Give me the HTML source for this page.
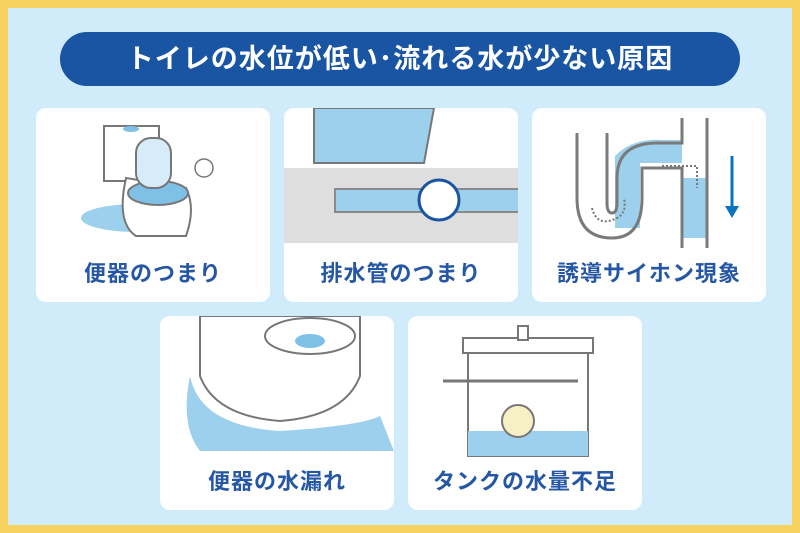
<!DOCTYPE html>
<html><head><meta charset="utf-8"><style>
body{margin:0;width:800px;height:533px;overflow:hidden;font-family:"Liberation Sans","Noto Sans CJK JP",sans-serif}
.bg{position:absolute;left:0;top:0;width:784px;height:517px;border:8px solid #f6d25e;background:#d0ebfa}
.title{position:absolute;left:60px;top:32px;width:680px;height:54px;border-radius:27px;background:#1a55a3;color:#fff;font-size:27px;font-weight:bold;text-align:center;line-height:54px;letter-spacing:1px}
.card{position:absolute;width:234px;height:194px;background:#fff;border-radius:10px;overflow:hidden}
.lab{position:absolute;left:0;right:0;bottom:14px;text-align:center;color:#2657a4;font-size:22px;font-weight:bold;letter-spacing:1px}
svg{position:absolute;left:0;top:0}
</style></head><body>
<div class="bg"></div>
<div class="title">トイレの水位が低い･流れる水が少ない原因</div>

<div class="card" style="left:36px;top:108px">
<svg width="234" height="150"><ellipse cx="100" cy="110" rx="55" ry="14" fill="#9dd0ec"/>
<rect x="68" y="18" width="55" height="55" fill="#fff" stroke="#777" stroke-width="2"/>
<path d="M90 70 Q80 115 100 128 L150 128 Q160 100 150 80 Z" fill="#fff" stroke="#777" stroke-width="2"/>
<ellipse cx="122" cy="85" rx="30" ry="12" fill="#7fc0e6" stroke="#777" stroke-width="2"/>
<rect x="100" y="30" width="35" height="50" rx="15" fill="#d6ecf8" stroke="#777" stroke-width="2"/>
<ellipse cx="95" cy="21" rx="8" ry="3" fill="#7fc0e6"/>
<circle cx="168" cy="60" r="9" fill="none" stroke="#777" stroke-width="1.5"/></svg>
<div class="lab">便器のつまり</div></div>

<div class="card" style="left:284px;top:108px">
<svg width="234" height="150"><rect x="0" y="60" width="234" height="75" fill="#dedede"/>
<rect x="50" y="80" width="184" height="25" fill="#8a8a8a"/><rect x="52" y="82" width="182" height="21" fill="#9dd0ec"/>
<path d="M30 0 L150 0 L140 55 L30 55 Z" fill="#9dd0ec" stroke="#777" stroke-width="2"/>
<circle cx="155" cy="92" r="20" fill="#fff" stroke="#1a55a3" stroke-width="3"/></svg>
<div class="lab">排水管のつまり</div></div>

<div class="card" style="left:532px;top:108px">
<svg width="234" height="150"><path d="M83 48 Q100 30 130 32 L150 32 L150 55 L108 55 L108 120 L83 120 Z" fill="#9dd0ec"/>
<rect x="150" y="70" width="25" height="60" fill="#9dd0ec"/>
<path d="M45 25 V90 Q45 130 80 130 Q110 130 110 90 V60 H150 V140 M75 25 V95 Q75 105 80 105 Q85 105 85 95 V70 Q85 35 125 35 H150 V10 M175 10 V140" fill="none" stroke="#7a7a7a" stroke-width="3"/>
<path d="M60 100 Q65 120 85 110 Q95 105 92 90 M130 58 H165 V80" fill="none" stroke="#777" stroke-width="2" stroke-dasharray="2 2"/>
<path d="M200 48 V100" stroke="#0a74bd" stroke-width="3"/><path d="M193 98 L207 98 L200 110Z" fill="#0a74bd"/></svg>
<div class="lab">誘導サイホン現象</div></div>

<div class="card" style="left:160px;top:316px">
<svg width="234" height="150"><path d="M30 60 Q40 110 120 115 Q200 110 220 100 L234 135 L40 135 Q20 110 30 60Z" fill="#9dd0ec"/>
<path d="M40 0 L40 60 Q55 100 120 105 Q185 100 200 60 L200 0 Z" fill="#fff" stroke="#777" stroke-width="2"/>
<ellipse cx="150" cy="20" rx="45" ry="18" fill="#fff" stroke="#777" stroke-width="2"/>
<ellipse cx="150" cy="25" rx="15" ry="7" fill="#7fc0e6"/></svg>
<div class="lab">便器の水漏れ</div></div>

<div class="card" style="left:408px;top:316px">
<svg width="234" height="150"><rect x="60" y="25" width="120" height="115" fill="#fff" stroke="#777" stroke-width="2"/>
<rect x="60" y="115" width="120" height="25" fill="#9dd0ec"/>
<rect x="55" y="22" width="130" height="15" fill="#fff" stroke="#777" stroke-width="2"/>
<rect x="110" y="10" width="10" height="14" fill="#fff" stroke="#777" stroke-width="2"/>
<circle cx="110" cy="105" r="16" fill="#f7f0c4" stroke="#777" stroke-width="2"/>
<path d="M35 65 H170" stroke="#777" stroke-width="3"/></svg>
<div class="lab">タンクの水量不足</div></div>
</body></html>
